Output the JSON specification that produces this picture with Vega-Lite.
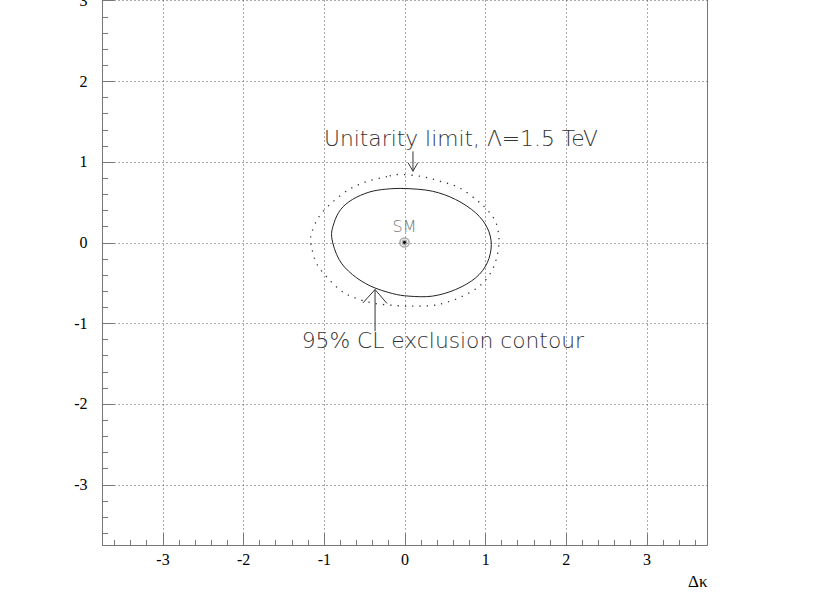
{
  "$schema": "https://vega.github.io/schema/vega-lite/v6.json",
  "width": 605,
  "height": 605,
  "autosize": {"type": "none"},
  "padding": {"left": 102, "top": -60, "right": 110, "bottom": 54},
  "background": "white",
  "config": {"view": {"stroke": "#777", "strokeWidth": 1}},
  "datasets": {
    "contour": [
      {"o": 0, "x": -0.902, "y": 0.058},
      {"o": 1, "x": -0.873, "y": 0.244},
      {"o": 2, "x": -0.791, "y": 0.409},
      {"o": 3, "x": -0.646, "y": 0.533},
      {"o": 4, "x": -0.44, "y": 0.624},
      {"o": 5, "x": -0.233, "y": 0.661},
      {"o": 6, "x": 0.014, "y": 0.669},
      {"o": 7, "x": 0.345, "y": 0.636},
      {"o": 8, "x": 0.634, "y": 0.533},
      {"o": 9, "x": 0.882, "y": 0.368},
      {"o": 10, "x": 1.026, "y": 0.182},
      {"o": 11, "x": 1.076, "y": -0.025},
      {"o": 12, "x": 1.026, "y": -0.252},
      {"o": 13, "x": 0.882, "y": -0.438},
      {"o": 14, "x": 0.634, "y": -0.583},
      {"o": 15, "x": 0.345, "y": -0.665},
      {"o": 16, "x": 0.056, "y": -0.665},
      {"o": 17, "x": -0.151, "y": -0.632},
      {"o": 18, "x": -0.419, "y": -0.541},
      {"o": 19, "x": -0.646, "y": -0.397},
      {"o": 20, "x": -0.811, "y": -0.211}
    ],
    "unitarity": [
      {"o": 0, "x": -0.068, "y": 0.843},
      {"o": 1, "x": -0.217, "y": 0.818},
      {"o": 2, "x": -0.464, "y": 0.756},
      {"o": 3, "x": -0.688, "y": 0.657},
      {"o": 4, "x": -0.898, "y": 0.496},
      {"o": 5, "x": -1.059, "y": 0.322},
      {"o": 6, "x": -1.15, "y": 0.124},
      {"o": 7, "x": -1.162, "y": 0.012},
      {"o": 8, "x": -1.146, "y": -0.087},
      {"o": 9, "x": -1.084, "y": -0.273},
      {"o": 10, "x": -0.935, "y": -0.459},
      {"o": 11, "x": -0.774, "y": -0.607},
      {"o": 12, "x": -0.626, "y": -0.682},
      {"o": 13, "x": -0.4, "y": -0.75},
      {"o": 14, "x": -0.13, "y": -0.78},
      {"o": 15, "x": 0.12, "y": -0.79},
      {"o": 16, "x": 0.341, "y": -0.781},
      {"o": 17, "x": 0.514, "y": -0.744},
      {"o": 18, "x": 0.712, "y": -0.669},
      {"o": 19, "x": 0.923, "y": -0.546},
      {"o": 20, "x": 1.071, "y": -0.372},
      {"o": 21, "x": 1.146, "y": -0.174},
      {"o": 22, "x": 1.171, "y": 0.037},
      {"o": 23, "x": 1.133, "y": 0.248},
      {"o": 24, "x": 1.022, "y": 0.409},
      {"o": 25, "x": 0.886, "y": 0.533},
      {"o": 26, "x": 0.675, "y": 0.682},
      {"o": 27, "x": 0.452, "y": 0.756},
      {"o": 28, "x": 0.217, "y": 0.818}
    ],
    "arrows": [
      {"seg": "up_shaft", "o": 0, "x": 0.105, "y": 1.13},
      {"seg": "up_shaft", "o": 1, "x": 0.105, "y": 0.884},
      {"seg": "up_head", "o": 0, "x": 0.045, "y": 0.988},
      {"seg": "up_head", "o": 1, "x": 0.105, "y": 0.884},
      {"seg": "up_head", "o": 2, "x": 0.165, "y": 0.988},
      {"seg": "low_shaft", "o": 0, "x": -0.365, "y": -1.1},
      {"seg": "low_shaft", "o": 1, "x": -0.365, "y": -0.583},
      {"seg": "low_head", "o": 0, "x": -0.514, "y": -0.748},
      {"seg": "low_head", "o": 1, "x": -0.365, "y": -0.583},
      {"seg": "low_head", "o": 2, "x": -0.217, "y": -0.756}
    ],
    "notes": [
      {"x": 0.7, "y": 1.28, "label": "Unitarity limit, Λ=1.5 TeV"},
      {"x": 0.475, "y": -1.215, "label": "95% CL exclusion contour"}
    ],
    "sm": [{"x": 0, "y": 0, "label": "SM", "ly": 0.186}]
  },
  "encoding": {
    "x": {
      "field": "x",
      "type": "quantitative",
      "scale": {"domain": [-3.75, 3.75], "nice": false, "zero": false},
      "axis": {
        "values": [-3.6, -3.4, -3.2, -3, -2.8, -2.6, -2.4, -2.2, -2, -1.8, -1.6, -1.4, -1.2, -1, -0.8, -0.6, -0.4, -0.2, 0, 0.2, 0.4, 0.6, 0.8, 1, 1.2, 1.4, 1.6, 1.8, 2, 2.2, 2.4, 2.6, 2.8, 3, 3.2, 3.4, 3.6],
        "title": "Δκ",
        "titleFont": "Liberation Serif",
        "titleFontSize": 17,
        "titleFontWeight": "normal",
        "titleColor": "black",
        "titleAnchor": "end",
        "titleBaseline": "middle",
        "titleY": 36,
        "domainColor": "#777",
        "tickColor": "#777",
        "tickSize": {"condition": {"test": "abs(datum.value - round(datum.value)) < 0.001", "value": -12}, "value": -5.5},
        "grid": true,
        "gridColor": "#555",
        "gridDash": [1, 3],
        "gridOpacity": {"condition": {"test": "abs(datum.value - round(datum.value)) < 0.001", "value": 1}, "value": 0},
        "labelExpr": "abs(datum.value - round(datum.value)) < 0.001 ? toString(round(datum.value)) : ''",
        "labelFont": "Liberation Serif",
        "labelFontSize": 16,
        "labelColor": "black",
        "labelPadding": 18,
        "labelOverlap": false,
        "labelFlush": false
      }
    },
    "y": {
      "field": "y",
      "type": "quantitative",
      "scale": {"domain": [-3.75, 3.75], "nice": false, "zero": false},
      "axis": {
        "values": [-3.6, -3.4, -3.2, -3, -2.8, -2.6, -2.4, -2.2, -2, -1.8, -1.6, -1.4, -1.2, -1, -0.8, -0.6, -0.4, -0.2, 0, 0.2, 0.4, 0.6, 0.8, 1, 1.2, 1.4, 1.6, 1.8, 2, 2.2, 2.4, 2.6, 2.8, 3, 3.2, 3.4, 3.6],
        "title": null,
        "domainColor": "#777",
        "tickColor": "#777",
        "tickSize": {"condition": {"test": "abs(datum.value - round(datum.value)) < 0.001", "value": -12}, "value": -5.5},
        "grid": true,
        "gridColor": "#555",
        "gridDash": [1, 3],
        "gridOpacity": {"condition": {"test": "abs(datum.value - round(datum.value)) < 0.001", "value": 1}, "value": 0},
        "labelExpr": "abs(datum.value - round(datum.value)) < 0.001 ? toString(round(datum.value)) : ''",
        "labelFont": "Liberation Serif",
        "labelFontSize": 16,
        "labelColor": "black",
        "labelPadding": 27,
        "labelOverlap": false,
        "labelFlush": false
      }
    }
  },
  "layer": [
    {
      "data": {"name": "unitarity"},
      "mark": {"type": "line", "stroke": "#333", "strokeWidth": 1.3, "strokeDash": [1.3, 6], "interpolate": "cardinal-closed"},
      "encoding": {"order": {"field": "o", "type": "quantitative"}}
    },
    {
      "data": {"name": "contour"},
      "mark": {"type": "line", "stroke": "#222", "strokeWidth": 1, "interpolate": "cardinal-closed"},
      "encoding": {"order": {"field": "o", "type": "quantitative"}}
    },
    {
      "data": {"name": "arrows"},
      "mark": {"type": "line", "stroke": "#333", "strokeWidth": 1},
      "encoding": {"detail": {"field": "seg"}, "order": {"field": "o", "type": "quantitative"}}
    },
    {
      "data": {"name": "sm"},
      "mark": {"type": "point", "shape": "circle", "size": 85, "filled": false, "stroke": "#888", "strokeWidth": 1.5}
    },
    {
      "data": {"name": "sm"},
      "mark": {"type": "point", "shape": "circle", "size": 35, "filled": true, "fill": "#aaa", "opacity": 1}
    },
    {
      "data": {"name": "sm"},
      "mark": {"type": "point", "shape": "circle", "size": 8, "filled": true, "fill": "black", "opacity": 1}
    },
    {
      "data": {"name": "sm"},
      "mark": {"type": "text", "font": "DejaVu Sans", "fontWeight": 200, "fontSize": 16, "fill": "#777", "align": "center", "baseline": "middle"},
      "encoding": {"y": {"field": "ly", "type": "quantitative"}, "text": {"field": "label"}}
    },
    {
      "data": {"name": "notes"},
      "mark": {"type": "text", "font": "DejaVu Sans", "fontWeight": 200, "fontSize": 21.8, "fill": "#333", "align": "center", "baseline": "middle"},
      "encoding": {"text": {"field": "label"}}
    }
  ]
}
